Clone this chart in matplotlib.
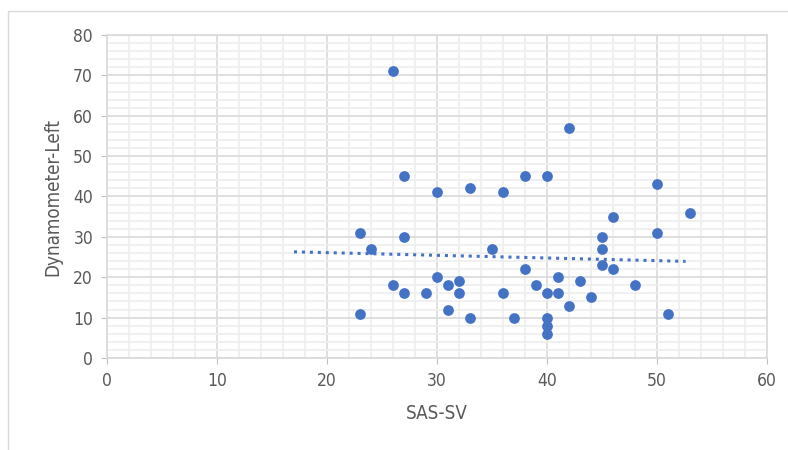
import matplotlib
matplotlib.use('Agg')
import matplotlib.pyplot as plt
import numpy as np
from matplotlib.ticker import MultipleLocator

plt.rcParams['font.family'] = ['DejaVu Sans']
plt.rcParams['font.stretch'] = 'condensed'

# SAS-SV vs Dynamometer-Left
sas_sv = [26, 42, 27, 30, 33, 36, 38, 40, 50, 46, 53, 23, 24, 27, 35, 45, 45, 50,
          45, 46, 38, 30, 32, 41, 43, 26, 27, 29, 31, 32, 36, 39, 40, 41, 48, 44,
          42, 31, 33, 37, 40, 40, 40, 23, 51]
dyn_left = [71, 57, 45, 41, 42, 41, 45, 45, 43, 35, 36, 31, 27, 30, 27, 30, 27, 31,
            23, 22, 22, 20, 19, 20, 19, 18, 16, 16, 18, 16, 16, 18, 16, 16, 18, 15,
            13, 12, 10, 10, 10, 8, 6, 11, 11]
trend_x = [17, 52.6]

fig = plt.figure(figsize=(7.88, 4.5), dpi=100)
ax = fig.add_axes([107 / 788, 1 - 358 / 450, 660 / 788, 323 / 450])

# chart border (Excel style)
fig.patches.append(plt.Rectangle((8 / 788, -0.1), 1.2, 1 - 11 / 450 + 0.1,
                                 transform=fig.transFigure, fill=False,
                                 edgecolor='#d9d9d9', linewidth=1))

ax.set_xlim(0, 60)
ax.set_ylim(0, 80)
ax.xaxis.set_major_locator(MultipleLocator(10))
ax.xaxis.set_minor_locator(MultipleLocator(2))
ax.yaxis.set_major_locator(MultipleLocator(10))
ax.yaxis.set_minor_locator(MultipleLocator(2))
ax.grid(True, which='minor', color='#eeeeee', linewidth=1.2, zorder=0)
ax.grid(True, which='major', color='#d9d9d9', linewidth=1.2, zorder=0)
ax.set_axisbelow(True)

for s in ax.spines.values():
    s.set_color('#d9d9d9')
    s.set_linewidth(1.2)
ax.tick_params(which='major', length=4, color='#bfbfbf', labelsize=12.5,
               labelcolor='#595959', pad=6)
ax.tick_params(which='minor', length=0)

ax.scatter(sas_sv, dyn_left, s=60, color='#4472c4', zorder=3, linewidths=0)

# linear trend line
k, b = np.polyfit(sas_sv, dyn_left, 1)
tx = np.array(trend_x)
ax.plot(tx, k * tx + b, linestyle=(0, (1, 1.6)), color='#4472c4', linewidth=2.2,
        zorder=2)

ax.set_xlabel('SAS-SV', fontsize=13.5, color='#595959', labelpad=10)
ax.set_ylabel('Dynamometer-Left', fontsize=13.5, color='#595959', labelpad=8)

plt.savefig('out.png', dpi=100)
